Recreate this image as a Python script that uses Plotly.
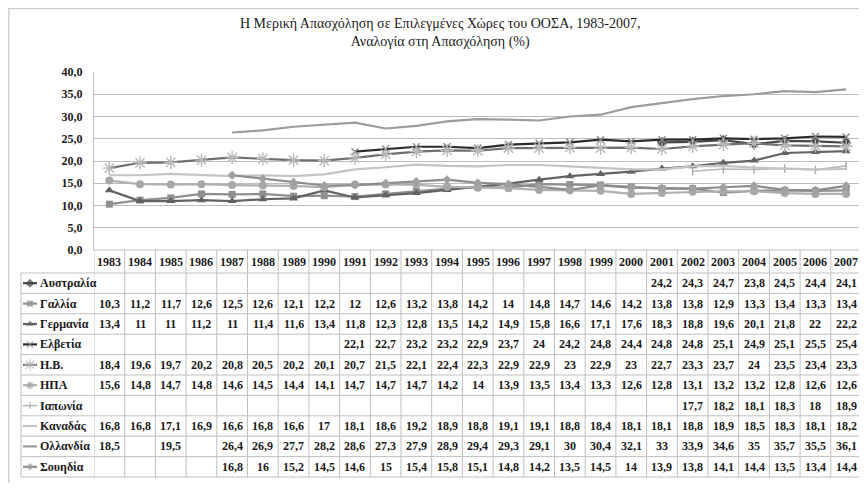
import plotly.graph_objects as go

years = list(range(1983, 2008))

countries = ["Αυστραλία", "Γαλλία", "Γερμανία", "Ελβετία", "Η.Β.", "ΗΠΑ",
             "Ιαπωνία", "Καναδάς", "Ολλανδία", "Σουηδία"]

australia = [None] * 18 + [24.2, 24.3, 24.7, 23.8, 24.5, 24.4, 24.1]
france = [10.3, 11.2, 11.7, 12.6, 12.5, 12.6, 12.1, 12.2, 12, 12.6, 13.2, 13.8, 14.2,
          14, 14.8, 14.7, 14.6, 14.2, 13.8, 13.8, 12.9, 13.3, 13.4, 13.3, 13.4]
germany = [13.4, 11, 11, 11.2, 11, 11.4, 11.6, 13.4, 11.8, 12.3, 12.8, 13.5, 14.2,
           14.9, 15.8, 16.6, 17.1, 17.6, 18.3, 18.8, 19.6, 20.1, 21.8, 22, 22.2]
switzerland = [None] * 8 + [22.1, 22.7, 23.2, 23.2, 22.9, 23.7, 24, 24.2, 24.8, 24.4,
                            24.8, 24.8, 25.1, 24.9, 25.1, 25.5, 25.4]
uk = [18.4, 19.6, 19.7, 20.2, 20.8, 20.5, 20.2, 20.1, 20.7, 21.5, 22.1, 22.4, 22.3,
      22.9, 22.9, 23, 22.9, 23, 22.7, 23.3, 23.7, 24, 23.5, 23.4, 23.3]
usa = [15.6, 14.8, 14.7, 14.8, 14.6, 14.5, 14.4, 14.1, 14.7, 14.7, 14.7, 14.2, 14,
       13.9, 13.5, 13.4, 13.3, 12.6, 12.8, 13.1, 13.2, 13.2, 12.8, 12.6, 12.6]
japan = [None] * 19 + [17.7, 18.2, 18.1, 18.3, 18, 18.9]
canada = [16.8, 16.8, 17.1, 16.9, 16.6, 16.8, 16.6, 17, 18.1, 18.6, 19.2, 18.9, 18.8,
          19.1, 19.1, 18.8, 18.4, 18.1, 18.1, 18.8, 18.9, 18.5, 18.3, 18.1, 18.2]
netherlands = [18.5, None, 19.5, None, 26.4, 26.9, 27.7, 28.2, 28.6, 27.3, 27.9, 28.9,
               29.4, 29.3, 29.1, 30, 30.4, 32.1, 33, 33.9, 34.6, 35, 35.7, 35.5, 36.1]
sweden = [None] * 4 + [16.8, 16, 15.2, 14.5, 14.6, 15, 15.4, 15.8, 15.1, 14.8, 14.2,
                       13.5, 14.5, 14, 13.9, 13.8, 14.1, 14.4, 13.5, 13.4, 14.4]

series = [australia, france, germany, switzerland, uk, usa, japan, canada, netherlands, sweden]

y_ticks = [0, 5, 10, 15, 20, 25, 30, 35, 40]

# styles: (line colour, line width, marker symbol, marker size, marker colour)
styles = [
    ("#474747", 2.2, "diamond", 8, "#474747"),
    ("#8f8f8f", 2.2, "square", 7, "#8f8f8f"),
    ("#636363", 2.2, "triangle-up", 8, "#636363"),
    ("#2b2b2b", 2.2, "x-thin-open", 7, "#8a8a8a"),
    ("#6f6f6f", 2.2, "asterisk-open", 11, "#b8b8b8"),
    ("#b0b0b0", 2.2, "circle", 8, "#a8a8a8"),
    ("#b8b8b8", 1.6, "line-ns-open", 6, "#a8a8a8"),
    ("#c4c4c4", 2.2, None, 0, "#c4c4c4"),
    ("#9c9c9c", 2.2, None, 0, "#9c9c9c"),
    ("#8c8c8c", 2.2, "diamond", 7, "#a0a0a0"),
]

FONT = "'Liberation Sans Narrow', 'Liberation Serif', 'DejaVu Serif', serif"
OFF = 8  # page body margin of the html page
W, H = 867 - 2 * OFF, 491 - 2 * OFF
PLOT_L, PLOT_T, PLOT_B = 94 - OFF, 72 - OFF, 250 - OFF
COL_W = 30.7
TAB_L, TAB_HDR_B, ROW_H = 21 - OFF, 273 - OFF, 20.4
TAB_B = TAB_HDR_B + ROW_H * len(countries)

def py(px):
    return 1 - px / H

def px_(x):
    return x / W

fig = go.Figure()

for name, vals, st in zip(countries, series, styles):
    lc, lw, sym, ms, mc = st
    open_sym = sym is not None and sym.endswith("open")
    marker = dict(symbol=sym or "circle", size=ms, color=mc,
                  line=dict(width=1.4 if open_sym else 0, color=mc))
    fig.add_trace(go.Scatter(
        x=years, y=vals, name=name,
        mode="lines+markers" if sym else "lines",
        line=dict(color=lc, width=lw),
        marker=marker, connectgaps=False, showlegend=False,
        xaxis="x", yaxis="y"))

# legend keys in table label column (helper axes)
for i, (name, st) in enumerate(zip(countries, styles)):
    lc, lw, sym, ms, mc = st
    open_sym = sym is not None and sym.endswith("open")
    fig.add_trace(go.Scatter(
        x=[2, 9, 16], y=[i + 0.5] * 3,
        mode="lines+markers" if sym else "lines",
        line=dict(color=lc, width=lw),
        marker=dict(symbol=sym or "circle", size=[0, max(ms - 1, 0), 0], color=mc,
                    line=dict(width=1.4 if open_sym else 0, color=mc)),
        showlegend=False, hoverinfo="skip", xaxis="x2", yaxis="y2"))

x_max = 1982.5 + (W - PLOT_L) / COL_W

fig.update_layout(
    width=W, height=H,
    margin=dict(l=0, r=0, t=0, b=0),
    paper_bgcolor="white", plot_bgcolor="white",
    separators=", ",
    font=dict(family=FONT, color="#1a1a1a"),
    xaxis=dict(domain=[px_(PLOT_L), 1], range=[1982.5, x_max], showticklabels=False,
               showgrid=False, zeroline=False, ticks="", fixedrange=True),
    yaxis=dict(domain=[py(PLOT_B), py(PLOT_T)], range=[0, 40], tickvals=y_ticks,
               tickformat=".1f", showgrid=True, gridcolor="#bdbdbd", gridwidth=1,
               zeroline=False, showline=True, linecolor="#bdbdbd", linewidth=1,
               ticks="", ticklabelstandoff=8, automargin=False,
               tickfont=dict(family=FONT, size=12, weight="bold", color="#1a1a1a")),
    xaxis2=dict(domain=[px_(TAB_L), px_(PLOT_L)], range=[0, PLOT_L - TAB_L], visible=False,
                fixedrange=True),
    yaxis2=dict(domain=[py(TAB_B), py(TAB_HDR_B)], range=[len(countries), 0],
                visible=False, anchor="x2"),
    showlegend=False,
)

shapes = []
grid_col = "#bfbfbf"
shapes.append(dict(type="line", xref="paper", yref="paper", x0=0.001, x1=0.001,
                   y0=0, y1=1, line=dict(color="#cfcfcf", width=1.5)))
shapes.append(dict(type="line", xref="paper", yref="paper", x0=0, x1=1,
                   y0=0.999, y1=0.999, line=dict(color="#cfcfcf", width=1.5)))
for r in range(len(countries) + 1):
    yy = TAB_HDR_B + ROW_H * r
    shapes.append(dict(type="line", xref="paper", yref="paper", x0=px_(TAB_L), x1=1,
                       y0=py(yy), y1=py(yy), line=dict(color=grid_col, width=1)))
shapes.append(dict(type="line", xref="paper", yref="paper", x0=px_(PLOT_L), x1=1,
                   y0=py(PLOT_B), y1=py(PLOT_B), line=dict(color=grid_col, width=1)))
shapes.append(dict(type="line", xref="paper", yref="paper", x0=px_(TAB_L), x1=px_(TAB_L),
                   y0=py(TAB_HDR_B), y1=py(TAB_B), line=dict(color=grid_col, width=1)))
for k in range(len(years) + 1):
    xb = 1982.5 + k
    shapes.append(dict(type="line", xref="x", yref="paper", x0=xb, x1=xb,
                       y0=py(PLOT_B), y1=py(TAB_B), line=dict(color=grid_col, width=1)))

ann = []
ann.append(dict(xref="paper", yref="paper", x=px_(440 - OFF), y=py(33 - OFF), xanchor="center",
                yanchor="middle", showarrow=False,
                text="Η Μερική Απασχόληση σε Επιλεγμένες Χώρες του ΟΟΣΑ, 1983-2007,<br>Αναλογία στη Απασχόληση (%)",
                font=dict(family=FONT, size=14, color="#1a1a1a")))
cell_font = dict(family=FONT, size=12, weight="bold", color="#1a1a1a")
for yr in years:
    ann.append(dict(xref="x", yref="paper", x=yr, y=py((PLOT_B + TAB_HDR_B) / 2),
                    text=str(yr), showarrow=False, xanchor="center",
                    yanchor="middle", font=cell_font))
for i, (name, vals) in enumerate(zip(countries, series)):
    yc = py(TAB_HDR_B + ROW_H * (i + 0.5))
    ann.append(dict(xref="paper", yref="paper", x=px_(TAB_L + 17), y=yc,
                    text=name, showarrow=False, xanchor="left",
                    yanchor="middle", font=cell_font))
    for yr, v in zip(years, vals):
        if v is None:
            continue
        ann.append(dict(xref="x", yref="paper", x=yr, y=yc,
                        text=f"{v:g}".replace(".", ","),
                        showarrow=False, xanchor="center", yanchor="middle",
                        font=cell_font))

fig.update_layout(shapes=shapes, annotations=ann)
fig.write_html("out.html")
